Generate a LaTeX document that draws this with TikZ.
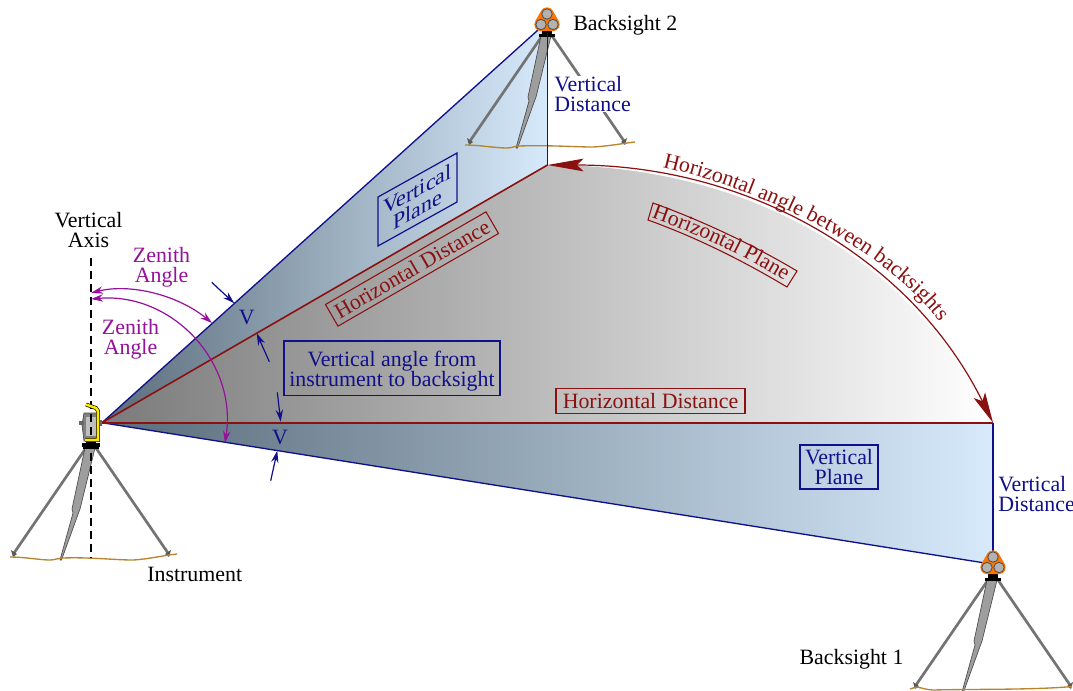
\documentclass[tikz,border=0pt]{standalone}
\usepackage{fontspec}
\setmainfont{Liberation Serif}
\usetikzlibrary{arrows.meta,decorations.text,calc}
\definecolor{nblue}{HTML}{10108A}
\definecolor{dred}{HTML}{8B1010}
\definecolor{purp}{HTML}{96109A}
\definecolor{ground}{HTML}{B8842C}
\definecolor{planedark}{RGB}{90,108,122}
\definecolor{planelight}{RGB}{214,234,252}
\newcommand{\lblfont}{\fontsize{16.4}{15}\selectfont}
\tikzset{
 x=0.75pt,y=-0.75pt,
 lbl/.style={font=\lblfont,align=center,inner sep=0pt},
 bluelbl/.style={lbl,text=nblue},
 redlbl/.style={lbl,text=dred},
 purplbl/.style={lbl,text=purp},
 blackl/.style={lbl,text=black},
 bluebox/.style={bluelbl,draw=nblue,line width=1pt},
 redbox/.style={redlbl,draw=dred,line width=0.8pt},
 blueline/.style={draw=nblue,line width=1pt},
 redline/.style={draw=dred,line width=1.2pt},
 purparrow/.style={draw=purp,line width=0.9pt,{Stealth[length=9pt,width=5.5pt]}-{Stealth[length=9pt,width=5.5pt]}},
 vmark/.style={draw=nblue,line width=0.9pt,-{Stealth[length=9pt,width=5.5pt]}},
 groundline/.style={draw=ground,line width=1pt},
 planeshade/.style={left color=planedark,right color=planelight},
}
\newcommand{\tripod}[2]{%
 \begin{scope}[shift={(#1,#2)}]
  \draw[draw=black!55,line width=2pt] (-5,1) -- (-77,106);
  \draw[draw=black!55,line width=2pt] (5,1) -- (77,106);
  \fill[black!65] (-78,110) -- (-80,103) -- (-74,107) -- cycle;
  \fill[black!65] (78,110) -- (80,103) -- (74,107) -- cycle;
  \filldraw[draw=black!70,fill=black!38,line width=0.5pt] (-6,1) -- (4,1) -- (-11,62) -- (-12.5,66) -- (-29.5,113) -- (-31,113) -- (-18,66) -- (-19,62) -- cycle;
  \fill[black] (-8,-1.5) rectangle (8,1.5);
  \fill[black] (-5,-5) rectangle (5,-1.5);
 \end{scope}}
\newcommand{\prismset}[2]{%
 \begin{scope}[shift={(#1,#2)}]
  \filldraw[draw=orange!92!red,fill=orange!92!red,line width=10pt,line join=round] (0,-6) -- (-6,4.5) -- (6,4.5) -- cycle;
  \foreach \a/\b in {0/-6,-6/4.5,6/4.5}{\filldraw[draw=black!70,fill=black!30,line width=0.6pt] (\a,\b) circle (5.2);}
 \end{scope}}
\begin{document}
\begin{tikzpicture}
\useasboundingbox (0,0) rectangle (1073,690);
\fill[white] (0,0) rectangle (1073,690);
\coordinate (A) at (102,422.7);
\coordinate (B) at (993,422.7);
\coordinate (C) at (985,563);
\coordinate (C0) at (993,552);
\coordinate (D) at (547.5,165);
\coordinate (E) at (538,30);
\coordinate (E0) at (547.5,33);
% shaded planes
\shade[planeshade] (A) -- (E) -- (E0) -- (D) -- cycle;
\shade[planeshade] (A) -- (B) -- (C0) -- (C) -- cycle;
\shade[left color=black!52,right color=white] (A) -- (D) .. controls (745,165) and (910,255) .. (B) -- cycle;
% tripods
\tripod{993}{579}
\tripod{547}{35}
\tripod{91}{447}
% grounds
\path[groundline] (10,557) .. controls (25,557) and (40,560) .. (50,560) .. controls (55,560) and (58,558) .. (62,558) .. controls (90,557) and (115,560) .. (133,560) .. controls (150,559) and (165,555) .. (177,554);
\path[groundline] (465,145) .. controls (480,145) and (495,148) .. (507,148) .. controls (512,148) and (515,146) .. (518,146) .. controls (550,145) and (575,147) .. (593,147) .. controls (610,146) and (625,143) .. (635,142);
\path[groundline] (910,689) .. controls (914,688) and (915,687) .. (917,687) .. controls (922,688) and (928,690) .. (933,690) .. controls (970,689) and (1035,690) .. (1072,686.5);
% outlines
\path[blueline] (A) -- (E);
\path[blueline] (E0) -- (D);
\path[blueline] (A) -- (C);
\path[blueline] (B) -- (C0);
\path[redline] (A) -- (B);
\path[redline] (A) -- (D);
% instrument
\filldraw[draw=black!70,fill=black!50,line width=0.5pt] (84,413) -- (98,413) -- (98,441) -- (84,441) -- (82,425) -- cycle;
\fill[black!25] (86,417) rectangle (96,436);
\fill[black!60] (79,421) rectangle (84,425);
\fill[black!60] (98,420) rectangle (102,426);
\fill[black] (82,443) rectangle (100,447);
% axis
\draw[black,line width=1pt,dash pattern=on 6pt off 3.75pt] (91,258) -- (91,558);
\draw[draw=black,line width=2.9pt] (86,404.5) -- (96,408) -- (98,411) -- (98,440) -- (85,440);
\draw[draw=yellow!90!orange,line width=1.9pt] (86,404.5) -- (96,408) -- (98,411) -- (98,440) -- (85,440);
\prismset{993}{563}
\prismset{547}{20}
% horizontal arc
\draw[dred,line width=0.9pt,{Stealth[length=27pt,width=9.5pt,inset=5pt]}-{Stealth[length=23pt,width=9.5pt,inset=5pt]}] (D) .. controls (745,165) and (910,255) .. (B);
% zenith
\coordinate (Z1) at (91,299);
\coordinate (Z2) at (91,293);
\coordinate (Z3) at (212,323);
\coordinate (Z4) at (225,443);
\path[purparrow] (Z2) .. controls (130,283) and (178,295) .. (Z3);
\path[purparrow] (Z1) .. controls (172,292) and (237.4,362) .. (Z4);
% V marks
\coordinate (V1s) at (211.7,282.3);\coordinate (V1e) at (234.3,303.3);
\coordinate (V2s) at (269.3,361.7);\coordinate (V2e) at (256.7,333.3);
\coordinate (V3s) at (277.3,392.3);\coordinate (V3e) at (280.7,421.7);
\coordinate (V4s) at (270.7,480.7);\coordinate (V4e) at (277.3,450.7);
\path[vmark] (V1s) -- (V1e);
\path[vmark] (V2s) -- (V2e);
\path[vmark] (V3s) -- (V3e);
\path[vmark] (V4s) -- (V4e);
% labels
\node[blackl] (ax) at (88.5,230) {Vertical\\Axis};
\node[purplbl] (za) at (161.5,267.5) {Zenith\\Angle};
\node[purplbl] (zb) at (130.5,339.5) {Zenith\\Angle};
\node[bluelbl] (v1) at (246.7,317) {V};
\node[bluelbl] (v2) at (280,437) {V};
\node[blackl] (ins) at (194.7,574) {Instrument};
\node[blackl] (bs2) at (625.3,25) {Backsight 2};
\node[blackl] (bs1) at (851.5,659.5) {Backsight 1};
\node[bluelbl,align=left,anchor=west,fill=white] (vd2) at (554,94) {Vertical\\Distance};
\node[bluelbl,align=left,anchor=west] (vd1) at (998,494.5) {Vertical\\Distance};
\node[bluebox,minimum width=162pt,minimum height=41pt] (vang) at (392,368.3) {\rule{0pt}{15.7pt}Vertical angle from\\instrument to backsight};
\node[bluebox,minimum width=58.5pt,minimum height=33pt] (vp1) at (839,467) {Vertical\\Plane};
\begin{scope}[shift={(417.5,199.5)},yslant=0.557,transform shape]
 \node[bluebox,line width=0.9pt,minimum width=59.25pt,minimum height=36.75pt] (vp2) at (0,0) {Vertical\\Plane};
\end{scope}
\node[redbox,minimum width=141.75pt,minimum height=18.75pt] (hd1) at (650.5,401) {Horizontal Distance};
\node[redbox,rotate=30,minimum width=139pt,minimum height=18.75pt] (hd2) at (412,269) {Horizontal Distance};
\draw[dred,line width=0.8pt] (653,203) .. controls (700,220) and (750,243) .. (797,271) -- (787,287) .. controls (740,259) and (695,237) .. (648,220) -- cycle;
\path[postaction={decorate,decoration={text along path,text align=center,text={|\lblfont\color{dred}|Horizontal Plane}}}] (651,217.5) .. controls (695,233) and (743,255) .. (785,281);
\path[postaction={decorate,decoration={text along path,text align=center,text={|\lblfont\color{dred}|Horizontal angle between backsights}}}] (662,167) .. controls (760,190) and (879,244) .. (940,322);
\end{tikzpicture}
\end{document}
